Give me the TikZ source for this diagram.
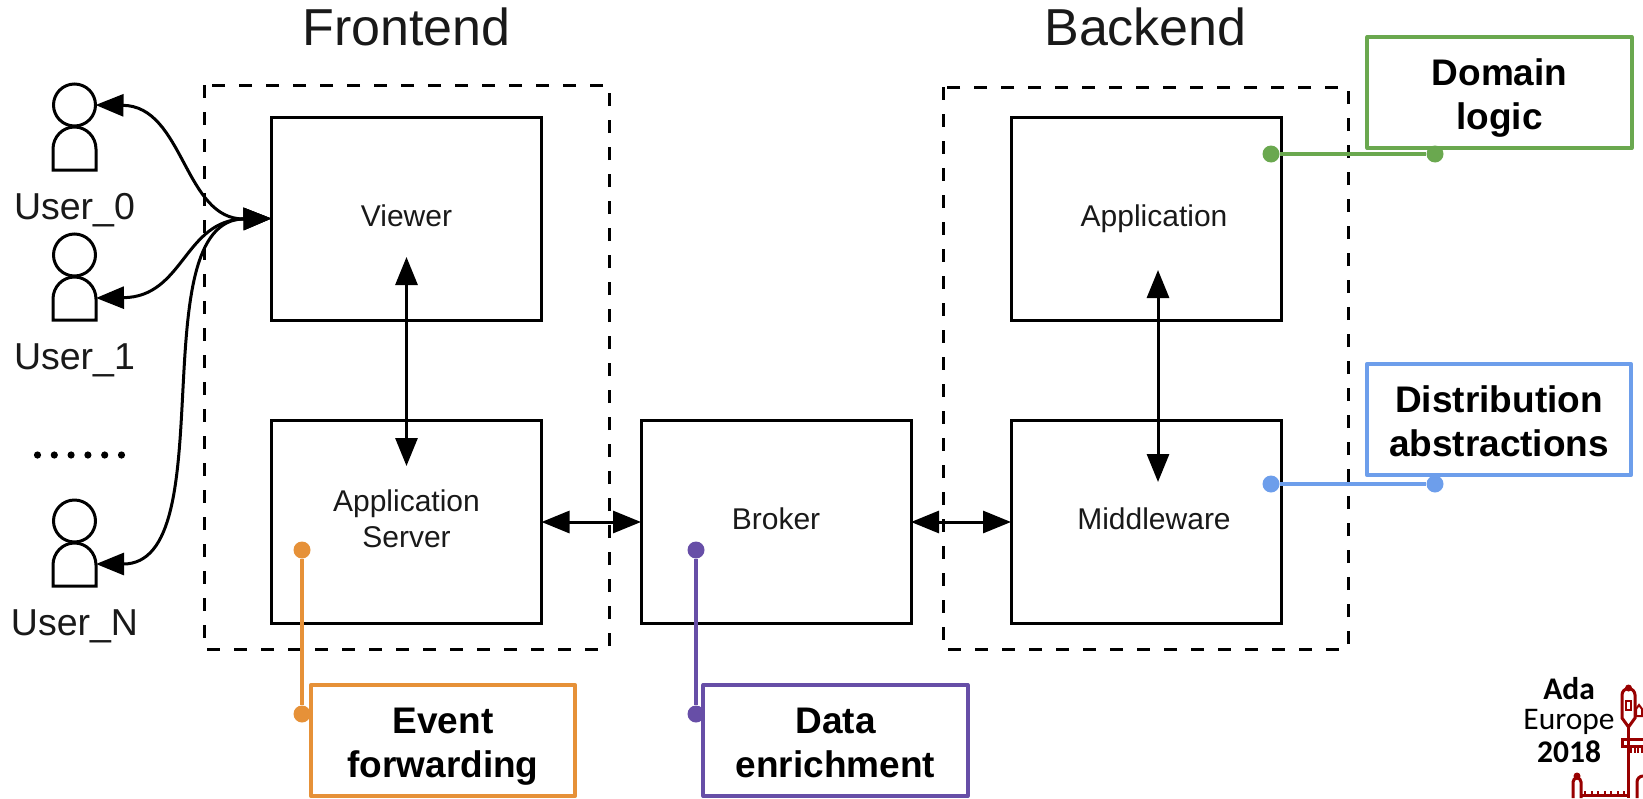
\documentclass[tikz,border=0pt]{standalone}
\usepackage{fontspec}
\setmainfont{Liberation Sans}
\newfontfamily\logofont{Carlito}
\usetikzlibrary{arrows.meta}
\definecolor{logicgreen}{HTML}{6AA84F}
\definecolor{distblue}{HTML}{6D9EEB}
\definecolor{eventorange}{HTML}{E69138}
\definecolor{datapurple}{HTML}{674EA7}
\definecolor{castlered}{HTML}{980000}
\tikzset{
    compbox/.style={draw=black,line width=3pt,minimum width=270pt,minimum height=203pt,outer sep=0pt,align=center,text=black!90,text height=24pt,text depth=8.5pt,font=\fontsize{30}{36}\selectfont},
    groupbox/.style={draw=black,line width=3pt,dash pattern=on 13pt off 14pt},
    biarrow/.style={line width=3pt,{Triangle[length=28pt,width=22pt]}-{Triangle[length=28pt,width=22pt]}},
    title/.style={font=\fontsize{52}{60}\selectfont,text=black!90},
    usrlabel/.style={font=\fontsize{37.5}{43}\selectfont,text=black!90},
    callout/.style={draw=#1,line width=3.8pt,line join=round,fill=white,minimum width=264.5pt,minimum height=111pt,outer sep=0pt,align=center,text height=74pt,text depth=0pt,font=\fontsize{37}{44}\selectfont\bfseries},
    calldot/.style={circle,fill=#1,draw=none,minimum size=17pt,inner sep=0pt},
    callline/.style={draw=#1,line width=4pt},
    logotext/.style={font=\logofont\fontsize{31.5}{36}\selectfont},
    castle/.style={draw=castlered,line width=3pt}
}
\begin{document}
\begin{tikzpicture}[x=1pt,y=-1pt]
    \useasboundingbox (0,0) rectangle (1643,798);
    % Titles
    \node[title] (frontendtitle) at (406.5,27) {Frontend};
    \node[title] (backendtitle) at (1145.5,27) {Backend};
    % Dashed groups
    \draw[groupbox] (204,85) rectangle (609,649);
    \draw[groupbox] (943,87) rectangle (1348,649);
    % Components
    \node[compbox] (viewer) at (406.5,218.5) {Viewer};
    \node[compbox,text height=58pt,text depth=8pt] (appserver) at (406.5,522) {Application\\Server};
    \node[compbox] (broker) at (776,522) {Broker};
    \node[compbox] (application) at (1146,218.5) {\hspace*{16pt}Application};
    \node[compbox] (middleware) at (1146,522) {\hspace*{16pt}Middleware};
    % Users
    \foreach \usr/\ypos/\txt in {0/105/User\_0,1/255/User\_1,N/521/User\_N} {
        \node[circle,draw,line width=3pt,minimum size=42pt,inner sep=0pt,outer sep=0pt] (head\usr) at (74.5,\ypos) {};
        \draw[line width=3pt] (53,\ypos+65) -- (53,\ypos+44) arc[start angle=180,end angle=360,x radius=21.5,y radius=22] -- (96,\ypos+65) -- cycle;
        \coordinate (body\usr) at (96,\ypos+43);
        \node[usrlabel] (label\usr) at (74.5,\ypos+105) {\txt};
    }
    \foreach \i in {0,...,5}
        \fill (37.5+\i*16.8,455) circle (3.6);
    % Links to users
    \draw[biarrow] (viewer.west) .. controls (184,220) and (184,106) .. (head0.east);
    \draw[biarrow] (viewer.west) .. controls (184,220) and (184,297) .. (body1);
    \draw[biarrow] (viewer.west) .. controls (140,220) and (225,564) .. (bodyN);
    % Links between components
    \coordinate (viewertip) at (406.5,257);
    \coordinate (servertip) at (406.5,466);
    \coordinate (apptip) at (1158,270);
    \coordinate (midtip) at (1158,482);
    \draw[biarrow] (viewertip) -- (servertip);
    \draw[biarrow] (apptip) -- (midtip);
    \draw[biarrow] (appserver.east) -- (broker.west);
    \draw[biarrow] (broker.east) -- (middleware.west);
    % Callouts
    \node[callout=logicgreen] (domain) at (1499.5,92.5) {Domain\\logic};
    \node[callout=distblue] (distrib) at (1499,419.5) {Distribution\\abstractions};
    \node[callout=eventorange] (event) at (443,740.5) {Event\\forwarding};
    \node[callout=datapurple] (data) at (835.5,740.5) {Data\\enrichment};
    \node[calldot=logicgreen] (domaina) at (1271,154) {};
    \node[calldot=logicgreen] (domainb) at (1435,154) {};
    \draw[callline=logicgreen] (domaina) -- (domainb);
    \node[calldot=distblue] (distriba) at (1271,484) {};
    \node[calldot=distblue] (distribb) at (1435,484) {};
    \draw[callline=distblue] (distriba) -- (distribb);
    \node[calldot=eventorange] (eventa) at (302,550) {};
    \node[calldot=eventorange] (eventb) at (302,714) {};
    \draw[callline=eventorange] (eventa) -- (eventb);
    \node[calldot=datapurple] (dataa) at (696,550) {};
    \node[calldot=datapurple] (datab) at (696,714) {};
    \draw[callline=datapurple] (dataa) -- (datab);
    % Logo
    \node[logotext] (adatxt) at (1569,689) {\bfseries Ada};
    \node[logotext] (europetxt) at (1569,722) {Europe};
    \node[logotext] (yeartxt) at (1569,752) {\bfseries 2018};
    \draw[castle] (1622,718) -- (1622,695) arc[start angle=180,end angle=360,radius=6.5] -- (1635,718) -- (1628.5,727) -- cycle;
    \fill[castlered] (1628.5,688) circle (3.5);
    \draw[castle,line width=2pt] (1626,701) rectangle (1631,710);
    \draw[castle,line width=2pt] (1636,716) -- (1636,709) -- (1639,705) -- (1642,709) -- (1642,716) -- cycle;
    \draw[castle] (1628.5,727) -- (1628.5,798);
    \draw[castle] (1622,738) -- (1622,746) -- (1643,746);
    \draw[castle] (1622,739) -- (1643,739);
    \foreach \i in {0,...,3}
        \draw[castle,line width=2pt] (1631+\i*3.6,746) -- (1631+\i*3.6,753);
    \draw[castle] (1573,798) -- (1573,782) arc[start angle=180,end angle=360,radius=4] -- (1581,798);
    \fill[castlered] (1577,776) circle (3.5);
    \draw[castle] (1581,795) -- (1628,795);
    \foreach \i in {0,...,6}
        \draw[castle,line width=2pt] (1585+\i*6.5,791) -- (1585+\i*6.5,795);
    \draw[castle] (1637,798) -- (1637,782) arc[start angle=180,end angle=270,radius=6];
\end{tikzpicture}
\end{document}
